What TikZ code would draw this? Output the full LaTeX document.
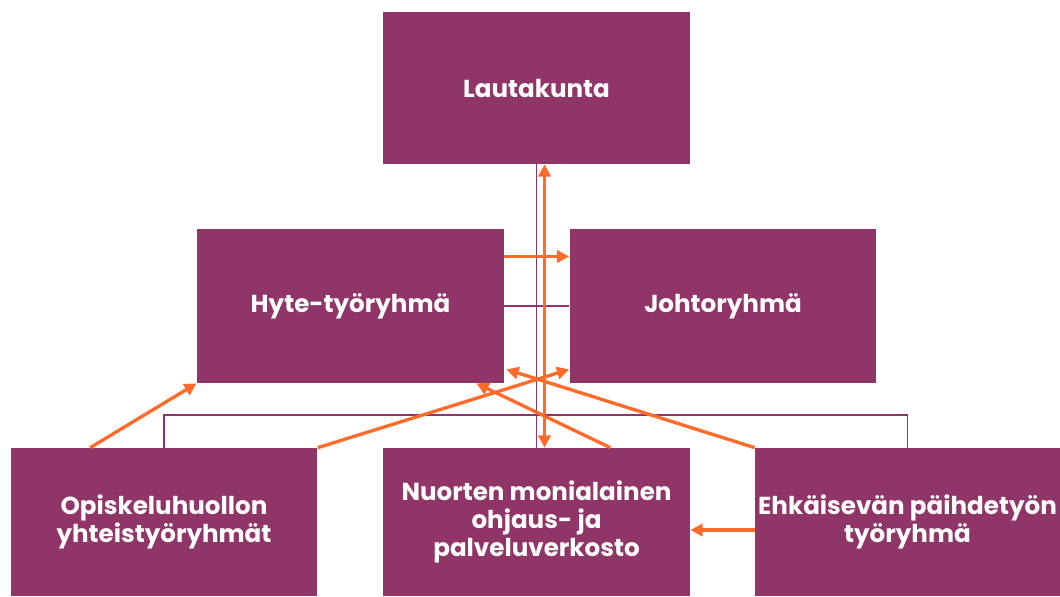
\documentclass[tikz,border=0pt]{standalone}
\usepackage{fontspec}
\setmainfont{Poppins}[UprightFont=* SemiBold,BoldFont=* Bold]
\usetikzlibrary{arrows.meta}
\usetikzlibrary{calc}
\definecolor{violetti}{RGB}{143,53,103}
\definecolor{oranssi}{RGB}{255,107,43}

\begin{document}
\begin{tikzpicture}[x=0.02cm,y=-0.02cm,
	box/.style={fill=violetti,text=white,inner sep=0pt,minimum width=6.14cm,minimum height=3.06cm,align=center,font=\fontsize{14}{15.8}\selectfont\bfseries},
	yhteys/.style={violetti,line width=1.1pt},
	nuoli/.style={oranssi,line width=1.9pt,-{Triangle[length=7pt,width=7pt]}}]
			\useasboundingbox (0,0) rectangle (1060,596);
			\node[box,minimum height=3.04cm] (lauta) at (536.5,88) {Lautakunta};
			\node[box,minimum height=3.08cm] (hyte) at (350.5,306) {Hyte-työryhmä};
			\node[box,minimum height=3.08cm] (johto) at (723,306) {Johtoryhmä};
			\node[box,minimum height=2.96cm] (opisk) at (164,522) {Opiskeluhuollon\\yhteistyöryhmät};
			\node[box,minimum height=2.96cm] (nuort) at (536.5,522) {Nuorten monialainen\\ohjaus- ja\\palveluverkosto};
			\node[box,minimum height=2.96cm,minimum width=6.1cm] (ehkai) at (907.5,522) {Ehkäisevän päihdetyön\\työryhmä};
			% violetit yhteysviivat
			\draw[yhteys] (lauta.south) -- (nuort.north);
			\draw[yhteys] (hyte.east) -- (johto.west);
			\draw[yhteys] (opisk.north) -- ++(0,-33) -| (ehkai.north);
			% oranssit nuolet
			\draw[nuoli] ($(hyte.north east)!.18!(hyte.south east)$) coordinate (h1) -- (h1 -| johto.west);
			\draw[nuoli,{Triangle[length=7pt,width=7pt]}-{Triangle[length=7pt,width=7pt]}] ($(lauta.south)+(8,0)$) -- ($(nuort.north)+(8,0)$);
			\draw[nuoli] ($(opisk.north west)+(80,0)$) -- (hyte.south west);
			\draw[nuoli] (opisk.north east) -- ($(johto.south west)+(0,-14)$);
			\draw[nuoli] ($(nuort.north east)+(-80,0)$) -- ($(hyte.south east)+(-28,0)$);
			\draw[nuoli] (ehkai.north west) -- ($(hyte.south east)+(2,-14)$);
			\draw[nuoli] ($(ehkai.west)+(0,8)$) -- ($(nuort.east)+(0,8)$);
		\end{tikzpicture}
\end{document}
